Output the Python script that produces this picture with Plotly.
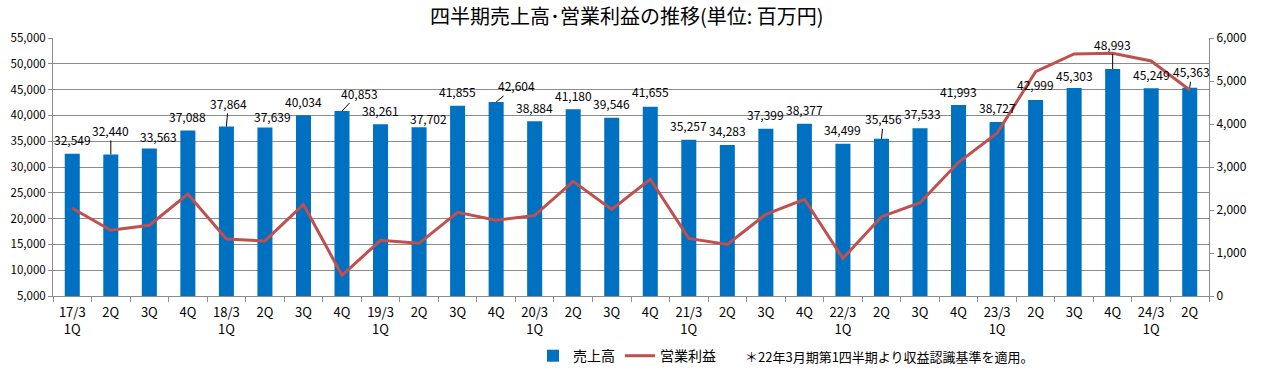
import plotly.graph_objects as go

categories = ["17/3<br>1Q", "2Q", "3Q", "4Q",
              "18/3<br>1Q", "2Q", "3Q", "4Q",
              "19/3<br>1Q", "2Q", "3Q", "4Q",
              "20/3<br>1Q", "2Q", "3Q", "4Q",
              "21/3<br>1Q", "2Q", "3Q", "4Q",
              "22/3<br>1Q", "2Q", "3Q", "4Q",
              "23/3<br>1Q", "2Q", "3Q", "4Q",
              "24/3<br>1Q", "2Q"]
sales = [32549, 32440, 33563, 37088,
         37864, 37639, 40034, 40853,
         38261, 37702, 41855, 42604,
         38884, 41180, 39546, 41655,
         35257, 34283, 37399, 38377,
         34499, 35456, 37533, 41993,
         38727, 42999, 45303, 48993,
         45249, 45363]
op_profit = [2040, 1530, 1645, 2370,
             1325, 1280, 2130, 480,
             1295, 1225, 1945, 1760,
             1875, 2665, 2015, 2715,
             1340, 1200, 1900, 2250,
             875, 1845, 2170, 3110,
             3785, 5215, 5630, 5645,
             5465, 4790]
left_ticks = list(range(5000, 55001, 5000))
right_ticks = list(range(0, 6001, 1000))

# label offsets (pixels) and whether a leader line is drawn
label_dx = [0, 0, 9, 0, 2, 8, 0, 17, 0, 9, 0, 20, 0, 0, 0, 0,
            0, 0, 0, 0, 0, 2, 2, 0, 0, 0, 0, 0, 0, 2]
label_dy = [-14, -24, -12, -14, -23, -11, -14, -18, -14, -9, -14, -16, -14, -14, -14, -15,
            -14, -14, -14, -14, -14, -20, -15, -14, -14, -15, -13, -25, -14, -16]
leader = [False, True, False, False, True, False, False, True, False, False, False, True,
          False, False, False, False, False, False, False, False, False, True, False, False,
          False, False, False, True, False, True]

FONT = "Noto Sans CJK JP, sans-serif"
BLUE = "#0070C0"
RED = "#C0504D"
GRID = "#8c8c8c"

xs = list(range(len(categories)))

fig = go.Figure()
fig.add_trace(go.Bar(x=xs, y=sales, name="売上高", marker_color=BLUE,
                     marker_line_width=0, yaxis="y", xaxis="x"))
fig.add_trace(go.Scatter(x=xs, y=op_profit, name="営業利益", mode="lines",
                         line=dict(color=RED, width=3), yaxis="y2", xaxis="x"))
# invisible helper trace for the boundary tick axis
fig.add_trace(go.Scatter(x=[-0.5, len(xs) - 0.5], y=[None, None], xaxis="x2",
                         yaxis="y", showlegend=False, hoverinfo="skip"))

annotations = []
for i, v in enumerate(sales):
    txt = f"{v:,}"
    if leader[i]:
        annotations.append(dict(x=i, y=v, xref="x", yref="y", text=txt,
                                showarrow=True, arrowhead=0, arrowwidth=1,
                                arrowcolor="black", ax=label_dx[i], ay=label_dy[i],
                                standoff=0, font=dict(family=FONT, size=12, color="black")))
    else:
        annotations.append(dict(x=i, y=v, xref="x", yref="y", text=txt,
                                showarrow=False, xshift=label_dx[i], yshift=-label_dy[i],
                                yanchor="middle",
                                font=dict(family=FONT, size=12, color="black")))

annotations.append(dict(x=(743 - 53) / 1156, y=-0.233, xref="paper", yref="paper",
                        xanchor="left", yanchor="middle", showarrow=False,
                        text="＊22年3月期第1四半期より収益認識基準を適用。",
                        font=dict(family=FONT, size=13, color="black")))

fig.update_layout(
    width=1261, height=370,
    margin=dict(l=53, r=52, t=38, b=74, autoexpand=False),
    paper_bgcolor="white", plot_bgcolor="white",
    title=dict(text="四半期売上高･営業利益の推移(単位: 百万円)", x=0.497, xanchor="center",
               y=0.955, yanchor="middle", automargin=False,
               font=dict(family=FONT, size=20, color="black")),
    bargap=0.61,
    showlegend=True,
    legend=dict(orientation="h", x=(533 - 53) / 1156, xanchor="left",
                y=-0.233, yanchor="middle",
                font=dict(family=FONT, size=14, color="black"),
                bgcolor="rgba(0,0,0,0)", itemwidth=30, tracegroupgap=0),
    xaxis=dict(range=[-0.5, len(xs) - 0.5], tickmode="array", tickvals=xs,
               ticktext=categories, ticks="", showgrid=False, zeroline=False,
               showline=True, linecolor=GRID, linewidth=1, automargin=False,
               ticklabelstandoff=4,
               tickfont=dict(family=FONT, size=13, color="black")),
    xaxis2=dict(range=[-0.5, len(xs) - 0.5], overlaying="x", anchor="y",
                tickmode="array", tickvals=[i - 0.5 for i in range(len(xs) + 1)],
                ticks="outside", ticklen=5, tickcolor=GRID, showticklabels=False,
                showgrid=False, zeroline=False, showline=False, automargin=False),
    yaxis=dict(range=[5000, 55000], tickmode="array", tickvals=left_ticks,
               tickformat=",", showgrid=True, gridcolor=GRID, gridwidth=1,
               zeroline=False, showline=True, linecolor=GRID, linewidth=1,
               ticks="outside", ticklen=4, tickcolor=GRID, automargin=False,
               tickfont=dict(family=FONT, size=11.5, color="black")),
    yaxis2=dict(range=[0, 6000], tickmode="array", tickvals=right_ticks,
                tickformat=",", overlaying="y", side="right", showgrid=False,
                zeroline=False, showline=True, linecolor=GRID, linewidth=1,
                ticks="outside", ticklen=4, tickcolor=GRID, automargin=False,
                tickfont=dict(family=FONT, size=12, color="black")),
    annotations=annotations,
)

fig.write_html("out.html", config={"displayModeBar": False},
               post_script="document.body.style.margin='0';document.body.style.overflow='hidden';")
